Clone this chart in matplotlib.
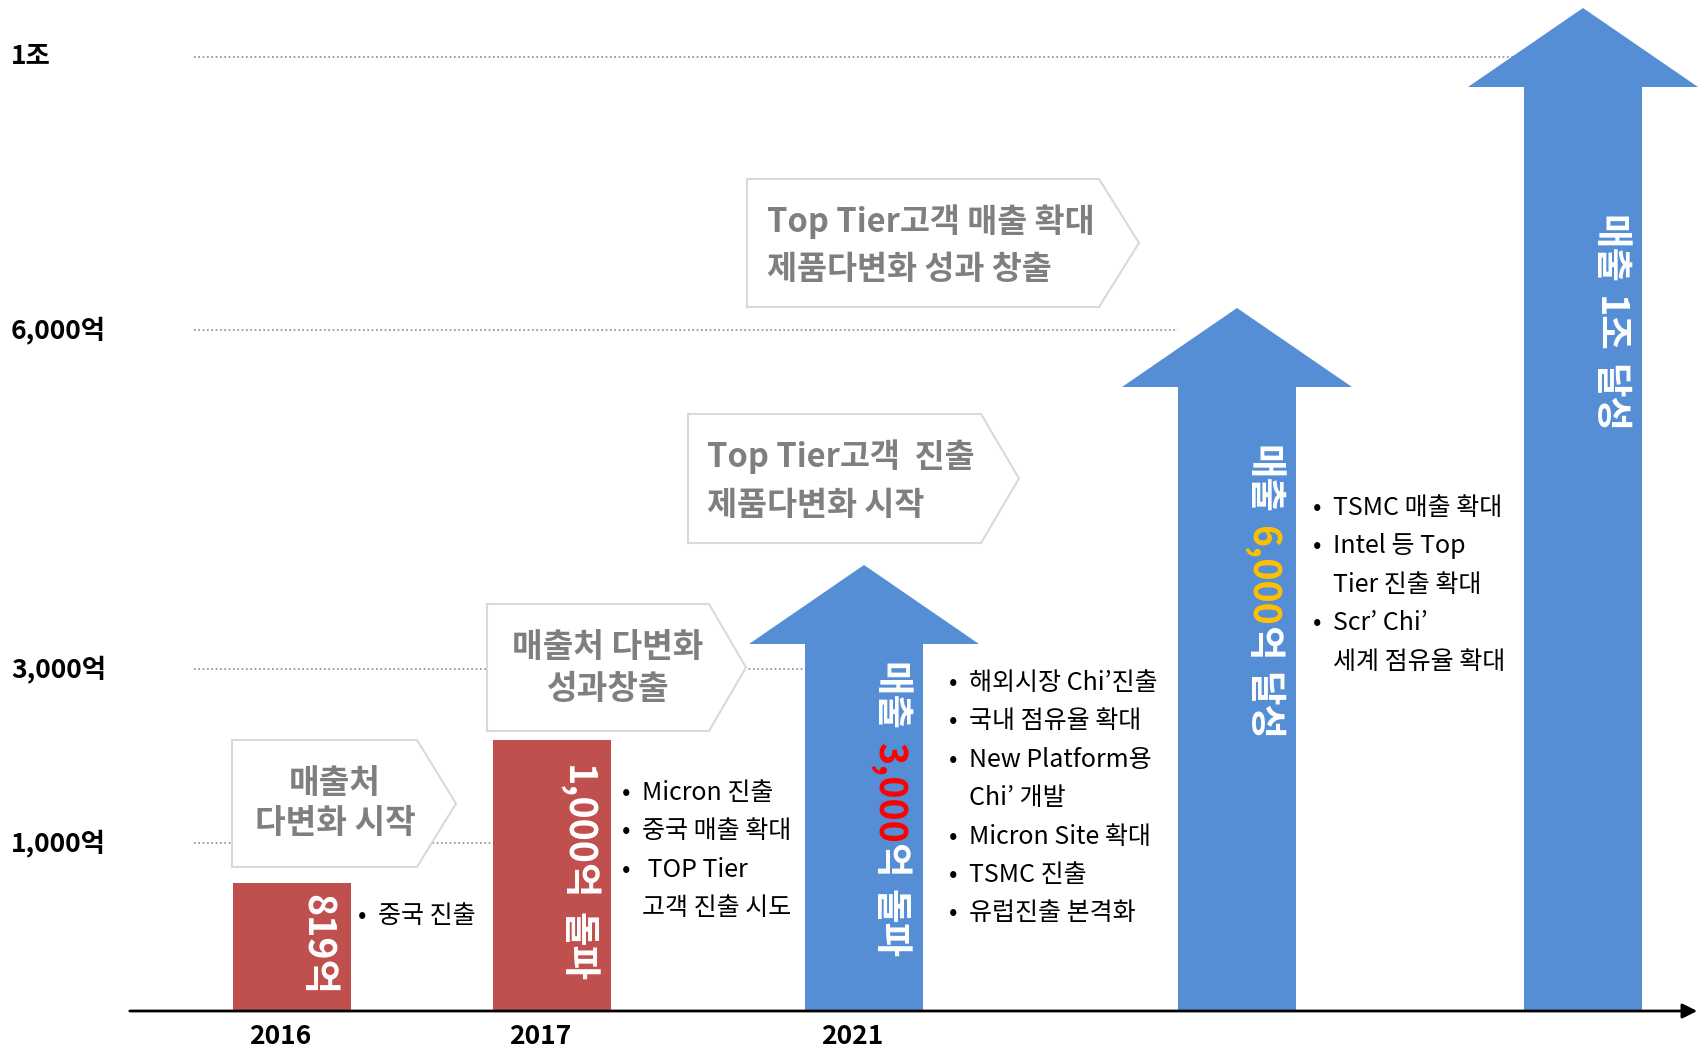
import matplotlib.pyplot as plt
from matplotlib.patches import Polygon, Rectangle

plt.rcParams['font.family'] = ['Noto Sans CJK KR', 'DejaVu Sans']

# ---------------- data ----------------
years = ['2016', '2017', '2021', '', '']
kinds = ['bar', 'bar', 'arrow', 'arrow', 'arrow']
tops = [128, 271, 446, 703, 1003]          # mark height above the baseline (chart units)
stage_text = [
    [('819억', 'white')],
    [('1,000억', 'white'), (None, None), ('돌파', 'white')],
    [('매출', 'white'), (None, None), ('3,000', '#FF0000'), ('억', 'white'), (None, None), ('돌파', 'white')],
    [('매출', 'white'), (None, None), ('6,000', '#FFC000'), ('억', 'white'), (None, None), ('달성', 'white')],
    [('매출', 'white'), (None, None), ('1조', 'white'), (None, None), ('달성', 'white')],
]
notes = [
    ['• 중국 진출'],
    ['• Micron 진출', '• 중국 매출 확대', '•  TOP Tier', '고객 진출 시도'],
    ['• 해외시장 Chi’진출', '• 국내 점유율 확대', '• New Platform용', 'Chi’ 개발',
     '• Micron Site 확대', '• TSMC 진출', '• 유럽진출 본격화'],
    ['• TSMC 매출 확대', '• Intel 등 Top', 'Tier 진출 확대', '• Scr’ Chi’', '세계 점유율 확대'],
    [],
]
levels = ['1,000억', '3,000억', '6,000억', '1조']
level_h = [168, 342, 681, 954]
level_end = [1, 2, 3, 4]                    # gridline runs up to this stage

phases = [
    ['매출처', '다변화 시작'],
    ['매출처 다변화', '성과창출'],
    ['Top Tier고객  진출', '제품다변화 시작'],
    ['Top Tier고객 매출 확대', '제품다변화 성과 창출'],
]

# ---------------- layout ----------------
cx = [292, 552, 864, 1237, 1583]
bw = 118
head_w = 230
head_len = 79
note_x = [362, 626, 953, 1317, 0]
note_y0 = [95, 218, 328, 503, 0]
note_step = 38.4
phase_box = [(232, 417, 456, 144, 271), (487, 709, 746, 280, 407),
             (688, 981, 1019, 468, 597), (747, 1099, 1139, 704, 832)]
phase_align = ['center', 'center', 'left', 'left']
phase_size = [24, 24, 23.5, 23.5]
phase_tx = [335, 608, 707, 767]
phase_ty = [(227, 187), (363, 322), (554, 505), (789, 741)]
vtext_c = [66, 138, 201, 418, 687]

RED = '#C0504D'
BLUE = '#558ED5'
GREY = '#7F7F7F'

fig = plt.figure(figsize=(17.06, 10.53), dpi=100)
ax = fig.add_axes([0, 0, 1, 1])
ax.set_xlim(0, 1706)
ax.set_ylim(-42, 1011)
ax.axis('off')

# level gridlines + labels
for lab, h, e in zip(levels, level_h, level_end):
    ax.plot([194, cx[e] - bw / 2], [h, h], color='#8C8C8C', lw=1.2,
            linestyle=(0, (1, 1.6)), zorder=1)
    ax.text(11, h, lab, fontsize=19, fontweight='bold', ha='left', va='center', color='black')

# phase chevrons
for (l, r, tip, b, t), lines, al, fs, tx, tys in zip(phase_box, phases, phase_align,
                                                      phase_size, phase_tx, phase_ty):
    ax.add_patch(Polygon([(l, b), (l, t), (r, t), (tip, (t + b) / 2), (r, b)], closed=True,
                         facecolor='white', edgecolor='#D9D9D9', lw=1.5, zorder=3))
    for s, ty in zip(lines, tys):
        ax.text(tx, ty, s, fontsize=fs, fontweight='bold', color=GREY, ha=al, va='center', zorder=4)

# bars and arrows
for x, k, h in zip(cx, kinds, tops):
    if k == 'bar':
        ax.add_patch(Rectangle((x - bw / 2, 0), bw, h, facecolor=RED, edgecolor='none', zorder=4))
    else:
        hb = h - head_len
        pts = [(x - bw / 2, 0), (x - bw / 2, hb), (x - head_w / 2, hb), (x, h),
               (x + head_w / 2, hb), (x + bw / 2, hb), (x + bw / 2, 0)]
        ax.add_patch(Polygon(pts, closed=True, facecolor=BLUE, edgecolor='none', zorder=4))

# baseline
ax.annotate('', xy=(1700, 0), xytext=(127, 0),
            arrowprops=dict(arrowstyle='-|>', color='black', lw=2, mutation_scale=22), zorder=5)

for x, y in zip(cx, years):
    if y:
        ax.text(x - 12, -26, y, fontsize=19, fontweight='bold', ha='center', va='center')

# vertical labels inside bars / arrows
fig.canvas.draw()
renderer = fig.canvas.get_renderer()
vsize = 27
gap = 0.3 * vsize * 100 / 72
for x, yc, pieces in zip(cx, vtext_c, stage_text):
    objs = []
    for s, c in pieces:
        if s is None:
            objs.append(None)
            continue
        objs.append(ax.text(x + 26, 0, s, rotation=270, color=c, fontsize=vsize,
                            fontweight='bold', ha='center', va='top', zorder=6))
    lens = [gap if o is None else o.get_window_extent(renderer).height for o in objs]
    y = yc + sum(lens) / 2
    for o, L in zip(objs, lens):
        if o is not None:
            o.set_y(y)
        y -= L

# bullet notes
for bx, y0, lines in zip(note_x, note_y0, notes):
    for i, s in enumerate(lines):
        y = y0 - i * note_step
        if s.startswith('• '):
            ax.text(bx, y, '•', fontsize=18, ha='center', va='center')
            s = s[2:]
        ax.text(bx + 16, y, s, fontsize=18, ha='left', va='center')

fig.savefig('out.png', dpi=100, facecolor='white')
